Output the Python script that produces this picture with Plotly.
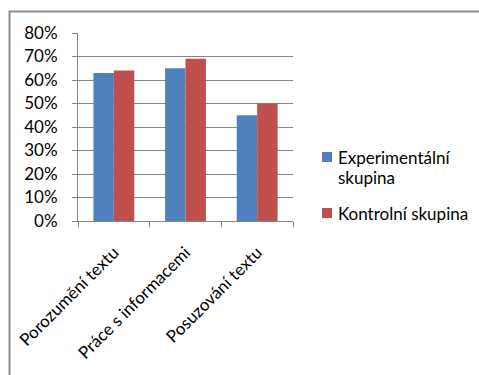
import plotly.graph_objects as go

categories = ["Porozumění textu", "Práce s informacemi", "Posuzování textu"]
experimental = [0.63, 0.65, 0.45]
control = [0.64, 0.69, 0.50]
series_names = ["Experimentální<br>skupina", "Kontrolní skupina"]
series_colors = ["#4F81BD", "#C0504D"]
y_ticks = [0, 0.1, 0.2, 0.3, 0.4, 0.5, 0.6, 0.7, 0.8]

W, H = 479, 375
L, R, T, B = 78, 186, 33, 154
pw, ph = W - L - R, H - T - B

def px_x(x):
    return (x - L) / pw

def px_y(y):
    return (H - B - y) / ph

grey = "#868686"
FS = 17
font = dict(family="Lato, Carlito, sans-serif", size=FS, color="#000000")

fig = go.Figure()
for vals, name, col in zip([experimental, control], series_names, series_colors):
    fig.add_trace(go.Bar(x=categories, y=vals, name=name,
                         marker=dict(color=col, line=dict(width=0))))

# outer chart frame (partly outside the visible page)
fig.add_shape(type="rect", xref="paper", yref="paper",
              x0=px_x(9.5), x1=px_x(600), y0=px_y(500), y1=px_y(11.5),
              line=dict(color="#8C8C8C", width=2), layer="below")

# legend: colour square followed by the series name, one line per row
legend_rows = [157, 213]
line_step = 20
for name, col, y0 in zip(series_names, series_colors, legend_rows):
    fig.add_shape(type="rect", xref="paper", yref="paper",
                  x0=px_x(322), x1=px_x(332), y0=px_y(y0 - 5), y1=px_y(y0 + 5),
                  fillcolor=col, line=dict(width=0))
    for i, part in enumerate(name.split("<br>")):
        fig.add_annotation(text=part, xref="paper", yref="paper",
                           x=px_x(336), y=px_y(y0 + i * line_step),
                           xanchor="left", yanchor="middle", showarrow=False,
                           font=dict(size=FS))

fig.update_layout(
    width=W, height=H,
    margin=dict(l=L, r=R, t=T, b=B, pad=0),
    paper_bgcolor="white", plot_bgcolor="white",
    barmode="group", bargap=0.43, bargroupgap=0,
    font=font,
    showlegend=False,
    xaxis=dict(showline=True, linecolor=grey, linewidth=1,
               ticks="outside", tickson="boundaries", ticklen=5,
               tickcolor=grey, tickangle=-45, showgrid=False,
               ticklabelstandoff=14, tickfont=dict(size=FS)),
    yaxis=dict(range=[0, 0.8], tickvals=y_ticks, tickformat=".0%",
               showline=True, linecolor=grey, linewidth=1,
               ticks="outside", ticklen=5, tickcolor=grey,
               showgrid=True, gridcolor=grey, gridwidth=1,
               zeroline=False, ticklabelstandoff=11,
               tickfont=dict(size=FS)),
)

fig.write_html("out.html")
